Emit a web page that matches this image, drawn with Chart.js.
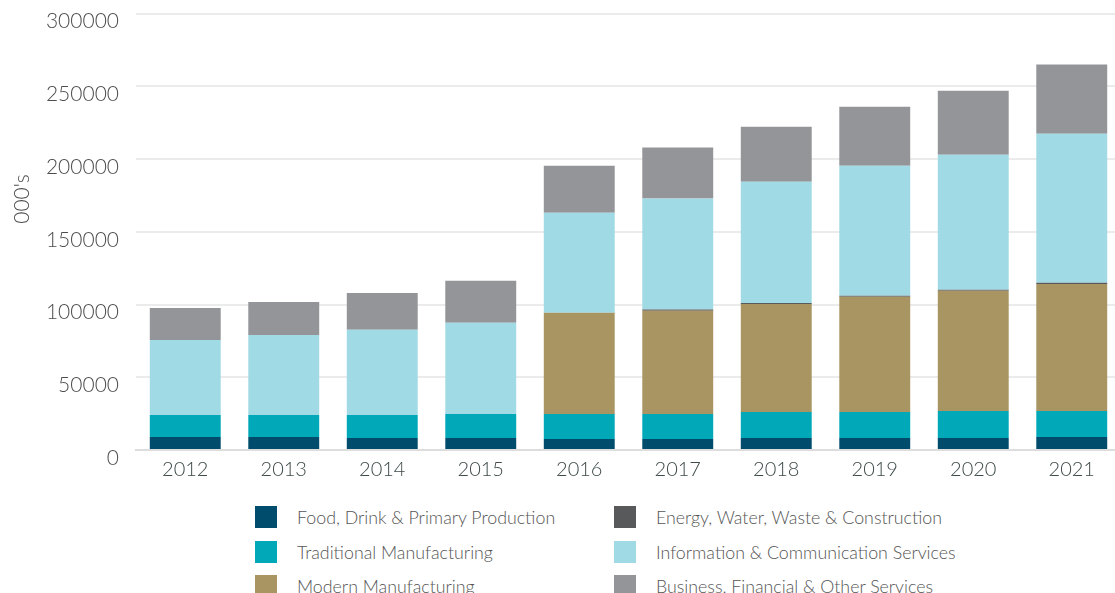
<!DOCTYPE html>
<html>
<head>
<meta charset="utf-8">
<script src="https://cdn.jsdelivr.net/npm/chart.js@4"></script>
<style>
    html, body { margin: 0; padding: 0; background: #fff; overflow: hidden; }
    #wrap { position: relative; width: 1115px; height: 593px; overflow: hidden; }
    #myChart { position: absolute; left: 0; top: -16px; }
    #legend { position: absolute; left: 255px; top: 506px; width: 760px; font-family: Lato, sans-serif; font-weight: 300; font-size: 17.8px; color: #555; }
    .item { position: absolute; height: 22px; line-height: 22px; white-space: nowrap; }
    .box { display: inline-block; width: 22px; height: 22px; vertical-align: top; }
    .lbl { position: absolute; left: 42px; top: 0; }
</style>
</head>
<body>
<div id="wrap">
    <canvas id="myChart" width="1121" height="516"></canvas>
    <div id="legend"></div>
</div>
<script>
const years = ['2012', '2013', '2014', '2015', '2016', '2017', '2018', '2019', '2020', '2021'];

// valori in migliaia (000's)
const food = [9000, 9000, 8300, 8300, 7600, 7600, 8300, 8300, 8300, 8900];
const traditional = [15100, 15100, 15800, 16500, 17200, 17200, 17800, 17800, 18500, 17900];
const modern = [0, 0, 0, 0, 69500, 71000, 74300, 79200, 82600, 87400];
const energy = [0, 0, 0, 0, 0, 700, 700, 700, 700, 700];
const information = [51600, 55000, 58500, 62600, 68800, 76400, 83300, 89400, 92900, 102500];
const business = [22000, 22700, 25400, 28900, 32300, 35100, 37900, 40600, 44000, 47600];

const yTicks = [0, 50000, 100000, 150000, 200000, 250000, 300000];

const series = [
    { label: 'Food, Drink & Primary Production', data: food, color: '#004c6c' },
    { label: 'Traditional Manufacturing', data: traditional, color: '#00a8b8' },
    { label: 'Modern Manufacturing', data: modern, color: '#a89562' },
    { label: 'Energy, Water, Waste & Construction', data: energy, color: '#58595b' },
    { label: 'Information & Communication Services', data: information, color: '#9fdae5' },
    { label: 'Business, Financial & Other Services', data: business, color: '#939598' }
];

// ordine della legenda (due colonne)
const legendOrder = [0, 3, 1, 4, 2, 5];

const yTitlePlugin = {
    id: 'yTitle',
    afterDraw(chart) {
        const ctx = chart.ctx;
        ctx.save();
        ctx.translate(22, 215);
        ctx.rotate(-Math.PI / 2);
        ctx.font = '300 21px Lato';
        ctx.fillStyle = '#4d4d4d';
        ctx.textAlign = 'center';
        ctx.textBaseline = 'middle';
        ctx.fillText("000's", 0, 0);
        ctx.restore();
    }
};

function createChart() {
    const ctx = document.getElementById('myChart').getContext('2d');
    const chart = new Chart(ctx, {
        type: 'bar',
        data: {
            labels: years,
            datasets: series.map(s => ({
                label: s.label,
                data: s.data,
                backgroundColor: s.color,
                borderWidth: 0,
                barPercentage: 0.72,
                categoryPercentage: 1
            }))
        },
        options: {
            responsive: false,
            animation: false,
            layout: { padding: { top: 0, right: 0, bottom: 0, left: 0 } },
            plugins: {
                legend: { display: false },
                tooltip: { enabled: false }
            },
            scales: {
                x: {
                    stacked: true,
                    grid: { display: false },
                    border: { display: true, color: '#dddddd', width: 2 },
                    ticks: { color: '#3f4a4a', padding: 0, font: { family: 'Lato', weight: 300, size: 20 } },
                    afterFit(scale) { scale.height = 50; }
                },
                y: {
                    stacked: true,
                    min: 0,
                    max: 300000,
                    afterBuildTicks(scale) { scale.ticks = yTicks.map(v => ({ value: v })); },
                    grid: { color: '#ebebeb', lineWidth: 2, drawTicks: false },
                    border: { display: false },
                    ticks: {
                        color: '#4d4d4d', padding: 17, labelOffset: 8,
                        font: { family: 'Lato', weight: 300, size: 21 },
                        callback: v => String(v)
                    },
                    afterFit(scale) { scale.width = 136; }
                }
            }
        },
        plugins: [yTitlePlugin]
    });

    const legend = document.getElementById('legend');
    legendOrder.forEach((idx, i) => {
        const s = series[idx];
        const item = document.createElement('div');
        item.className = 'item';
        item.style.left = (i % 2 === 0 ? 0 : 359) + 'px';
        item.style.top = (Math.floor(i / 2) * 34.5) + 'px';
        item.innerHTML = '<span class="box" style="background:' + s.color + '"></span><span class="lbl">' + s.label + '</span>';
        legend.appendChild(item);
    });
}

createChart();
</script>
</body>
</html>
